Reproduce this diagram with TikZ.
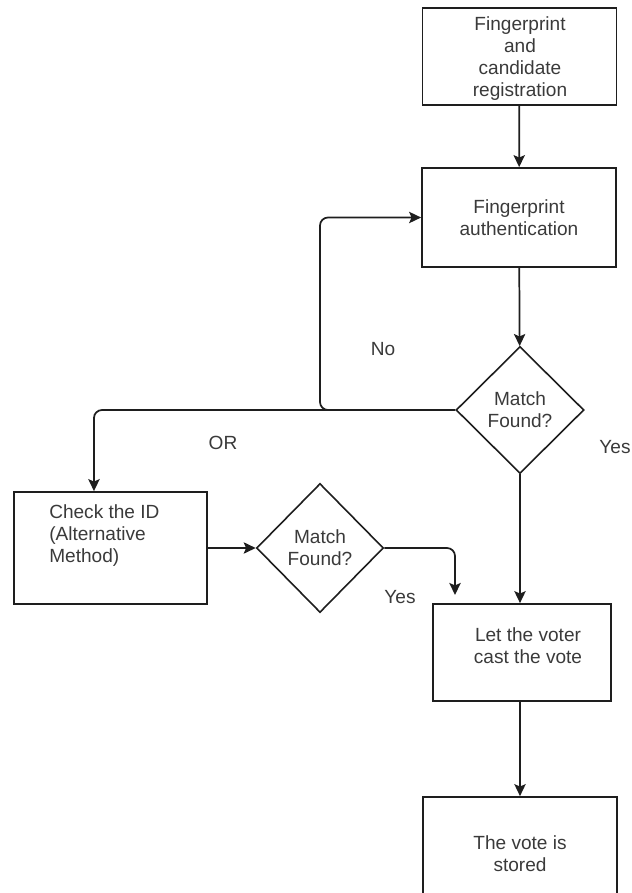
\documentclass[tikz,border=0pt]{standalone}
\usepackage{fontspec}
\setmainfont{Liberation Sans}
\usetikzlibrary{shapes.geometric,arrows.meta}
\definecolor{txt}{HTML}{3A3A3A}
\definecolor{ln}{HTML}{1E1E1E}
\begin{document}
\begin{tikzpicture}[x=0.75pt,y=-0.75pt,
  font=\fontsize{14.3pt}{16.5pt}\selectfont,
  box/.style={draw=ln,line width=1.3pt,rectangle,inner sep=0pt,text=txt,align=center},
  dia/.style={draw=ln,line width=1.2pt,diamond,inner sep=0pt,text=txt,align=center},
  lbl/.style={text=txt,inner sep=0pt},
  conn/.style={draw=ln,line width=1.3pt,-{Stealth[length=9pt,width=8.5pt,inset=1.8pt]}}]
\useasboundingbox (0,0) rectangle (632,893);
\node[box,minimum width=145.5pt,minimum height=72.75pt] (b1) at (519.5,56.5) {};
\node[lbl,align=center] (t1) at (520,59) {Fingerprint\\and\\candidate\\registration};
\node[box,minimum width=145.5pt,minimum height=74.25pt] (b2) at (519,217.5)
  {Fingerprint\\authentication};
\node[dia,minimum width=96pt,minimum height=95.25pt] (d1) at (520,410) {Match\\Found?};
\node[box,minimum width=144.75pt,minimum height=84pt] (b5) at (110.5,548) {};
\node[lbl,anchor=west,align=left] (t5) at (49,536) {Check the ID\\(Alternative\\Method)};
\node[dia,minimum width=95.25pt,minimum height=96.75pt] (d2) at (320,548) {Match\\Found?};
\node[box,minimum width=133.5pt,minimum height=72.75pt] (b3) at (522,652.5) {};
\node[lbl,align=center] (t3) at (528,646) {Let the voter\\cast the vote};
\node[box,minimum width=145.5pt,minimum height=85.5pt] (b4) at (520,854) {The vote is\\stored};
\coordinate (c1) at (455,595);
\node[lbl] (lno) at (383,349) {No};
\node[lbl] (lor) at (223,443) {OR};
\node[lbl] (ly1) at (615,447) {Yes};
\node[lbl] (ly2) at (400,597) {Yes};
\draw[conn] (b1) -- (b2);
\draw[conn] (b2) -- (d1);
\draw[conn,rounded corners=6pt] (d1.west) -- (320,410) |- (b2.west);
\draw[conn,rounded corners=6pt] (d1.west) -| ([xshift=-12.4pt]b5.north);
\draw[conn] (b5.east |- d2.west) -- (d2.west);
\draw[conn,rounded corners=6pt] (d2.east) -| (c1);
\draw[conn] (d1.south) -- (d1.south |- b3.north);
\draw[conn] (b3.south -| b4.north) -- (b4.north);
\end{tikzpicture}
\end{document}
